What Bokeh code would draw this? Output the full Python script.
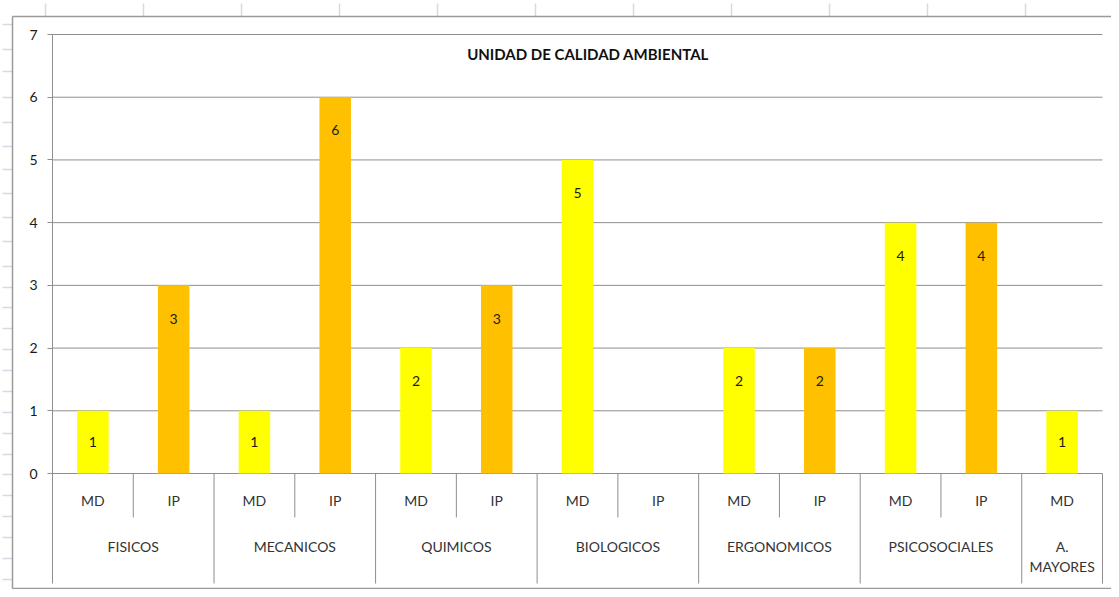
from bokeh.plotting import figure
from bokeh.models import Range1d, LinearAxis, FixedTicker
from bokeh.embed import file_html
from bokeh.resources import INLINE
from bokeh.core.properties import value

# ---------------- data ----------------
groups = ["FISICOS", "MECANICOS", "QUIMICOS", "BIOLOGICOS", "ERGONOMICOS", "PSICOSOCIALES", "A.\nMAYORES"]
md_values = [1, 1, 2, 5, 2, 4, 1]
ip_values = [3, 6, 3, None, 2, 4]          # "A. MAYORES" has no IP column
series = ["MD", "IP"]
series_colors = {"MD": "#FFFF00", "IP": "#FFC000"}
y_ticks = [0, 1, 2, 3, 4, 5, 6, 7]
title_text = "UNIDAD DE CALIDAD AMBIENTAL"

# build the flat factor list (group, series, value)
factors = []
for gi, g in enumerate(groups):
    factors.append((g, "MD", md_values[gi]))
    if gi < len(ip_values):
        factors.append((g, "IP", ip_values[gi]))
n = len(factors)

# ---------------- layout (pixel geometry of the frame) ----------------
W, H = 1111, 589
X0_PX, X1_PX = 52, 1102
Y0_PX, Y7_PX = 473, 34
X_UNIT = (X1_PX - X0_PX) / n
Y_UNIT = (Y0_PX - Y7_PX) / (y_ticks[-1] - y_ticks[0])

def xd(px):
    return (px - X0_PX) / X_UNIT

def yd(py):
    return (Y0_PX - py) / Y_UNIT

p = figure(width=W, height=H, output_backend="svg", toolbar_location=None,
           x_range=Range1d(xd(0), xd(W)),
           y_range=Range1d(yd(H), yd(0)),
           x_axis_location=None, y_axis_location=None,
           min_border=0, min_border_left=0, min_border_right=0,
           min_border_top=0, min_border_bottom=0)
p.outline_line_color = None
p.grid.visible = False
p.background_fill_color = "white"
p.border_fill_color = "white"

FONT = value("Lato")
GRID = "#8e8e8e"
SHEET = "#d5d9e6"

# spreadsheet decoration lines outside the chart
sheet_rows_px = [24, 49, 71, 97, 122, 146, 169, 193, 217, 241, 266, 287, 307, 328, 349,
                 370, 391, 412, 433, 454, 474, 495, 516, 537, 558, 579]
p.segment(x0=[xd(2)] * len(sheet_rows_px), x1=[xd(12)] * len(sheet_rows_px),
          y0=[yd(r) for r in sheet_rows_px], y1=[yd(r) for r in sheet_rows_px],
          line_color=SHEET, line_width=1.5)
sheet_cols_px = [45 + 98 * k for k in range(11)]
p.segment(x0=[xd(c) for c in sheet_cols_px], x1=[xd(c) for c in sheet_cols_px],
          y0=[yd(3)] * len(sheet_cols_px), y1=[yd(16)] * len(sheet_cols_px),
          line_color=SHEET, line_width=1.5)

# chart-area border
p.segment(x0=[xd(12), xd(12), xd(12)], x1=[xd(12), xd(W + 5), xd(W + 5)],
          y0=[yd(16), yd(16), yd(588)], y1=[yd(588), yd(16), yd(588)],
          line_color="#9a9a9a", line_width=1.5)

# horizontal gridlines
p.segment(x0=[0] * len(y_ticks), x1=[n] * len(y_ticks), y0=y_ticks, y1=y_ticks,
          line_color=GRID, line_width=1)

# bars
for s in series:
    xs = [i + 0.5 for i, f in enumerate(factors) if f[1] == s and f[2] is not None]
    tops = [f[2] for f in factors if f[1] == s and f[2] is not None]
    p.vbar(x=xs, top=tops, bottom=0, width=0.39, fill_color=series_colors[s], line_color=None)

# data labels inside the bars
lx = [i + 0.5 for i, f in enumerate(factors) if f[2] is not None]
lv = [f[2] for f in factors if f[2] is not None]
p.text(x=lx, y=[max(v - 0.53, v / 2) for v in lv], text=[str(v) for v in lv],
       text_font=FONT, text_font_size="14px", text_color="#1a1a1a",
       text_align="center", text_baseline="middle")

# y axis (fixed at the left edge of the category area)
yax = LinearAxis(fixed_location=0, bounds=(yd(583), y_ticks[-1]),
                 ticker=FixedTicker(ticks=y_ticks))
yax.axis_line_color = GRID
yax.axis_line_width = 1
yax.major_tick_line_color = GRID
yax.major_tick_in = 0
yax.major_tick_out = 5
yax.minor_tick_in = 0
yax.minor_tick_out = 0
yax.major_label_standoff = 10
yax.major_label_text_font = "Lato"
yax.major_label_text_font_size = "14px"
yax.major_label_text_color = "#1a1a1a"
p.add_layout(yax, "left")

# hierarchical category axis: separators
bounds_group = []
bounds_sub = []
group_centers = []
for gi, g in enumerate(groups):
    members = [i for i, f in enumerate(factors) if f[0] == g]
    group_centers.append((members[0] + members[-1] + 1) / 2)
    for k in range(1, len(members)):
        bounds_sub.append(members[k])
    bounds_group.append(members[-1] + 1)
p.segment(x0=bounds_sub, x1=bounds_sub, y0=[0] * len(bounds_sub), y1=[yd(517)] * len(bounds_sub),
          line_color=GRID, line_width=1)
p.segment(x0=bounds_group, x1=bounds_group, y0=[0] * len(bounds_group),
          y1=[yd(583)] * len(bounds_group), line_color=GRID, line_width=1)

# sub-category labels
p.text(x=[i + 0.5 for i in range(n)], y=[yd(500)] * n, text=[f[1] for f in factors],
       text_font=FONT, text_font_size="14px", text_color="#333333",
       text_align="center", text_baseline="middle")
# group labels
p.text(x=group_centers, y=[yd(537)] * len(groups), text=groups,
       text_font=FONT, text_font_size="14px", text_color="#333333",
       text_align="center", text_baseline="top", text_line_height=1.2)

# title
p.text(x=[xd(587.5)], y=[yd(53)], text=[title_text], text_font=FONT,
       text_font_size="15px", text_font_style="bold", text_color="#111111",
       text_align="center", text_baseline="middle")

open("out.html", "w").write(file_html(p, INLINE))
